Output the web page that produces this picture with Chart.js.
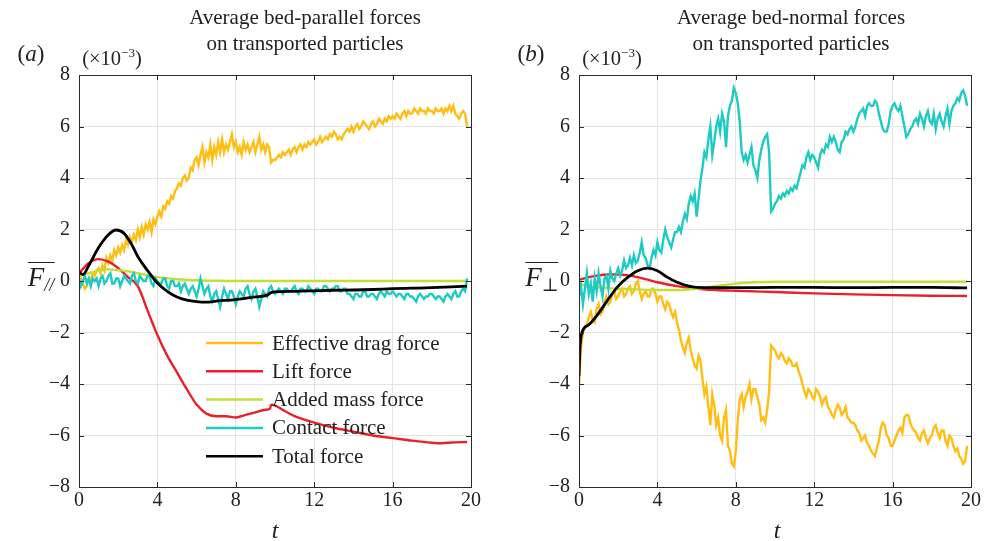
<!DOCTYPE html>
<html>
<head>
<meta charset="utf-8">
<script src="https://cdn.jsdelivr.net/npm/chart.js@4.4.1/dist/chart.umd.min.js"></script>
<style>
  body { margin: 0; background: #fff; font-family: "Liberation Serif", "DejaVu Serif", serif; color: #222; }
  #wrap { position: relative; width: 993px; height: 541px; overflow: hidden; }
  canvas { position: absolute; top: 0; }
  .t { position: absolute; white-space: nowrap; transform: translate(-50%, -50%); line-height: 1; }
  .title { font-size: 21px; text-align: center; line-height: 26px; }
  .panel { font-size: 23px; }
  .mult { font-size: 20.5px; }
  .mult sup { font-size: 13px; vertical-align: 8px; }
  .ylab { font-size: 27px; font-style: italic; border-top: 1.3px solid #222; padding-top: 1px; }
  .ylab sub { font-size: 18px; vertical-align: -5px; }
  .xlab { font-size: 24px; font-style: italic; }
</style>
</head>
<body>
<div id="wrap">
  <canvas id="chartA" width="496" height="541" style="left:0"></canvas>
  <canvas id="chartB" width="497" height="541" style="left:496px"></canvas>

  <div class="t title" style="left:305px;top:30px">Average bed-parallel forces<br>on transported particles</div>
  <div class="t title" style="left:791px;top:30px">Average bed-normal forces<br>on transported particles</div>
  <div class="t panel" style="left:31px;top:53px">(<i>a</i>)</div>
  <div class="t panel" style="left:531px;top:53px">(<i>b</i>)</div>
  <div class="t mult" style="left:112px;top:57px">(×10<sup>−3</sup>)</div>
  <div class="t mult" style="left:612px;top:57px">(×10<sup>−3</sup>)</div>
  <div class="t ylab" style="left:41px;top:278px">F<sub>//</sub></div>
  <div class="t ylab" style="left:542px;top:278px">F<sub>⊥</sub></div>
  <div class="t xlab" style="left:275px;top:530px">t</div>
  <div class="t xlab" style="left:777px;top:530px">t</div>
</div>
<script>
// time grid of the noisy records: 0 .. 19.8 every 0.1
const tNoisy = Array.from({ length: 199 }, (_, i) => i / 10);

const labels = ['Effective drag force', 'Lift force', 'Added mass force', 'Contact force', 'Total force'];
const colors = ['#FFBE14', '#E8202A', '#C3DE35', '#1ECAC2', '#000000'];

// (a) bed-parallel, x10^-3
const dragA = [
  0.3,0.1,-0.1,-0.3,-0.2,0.1,0.0,0.3,0.2,0.4,
  0.5,0.3,0.6,0.4,0.9,0.7,1.0,0.8,1.2,1.0,
  1.3,1.1,1.4,1.2,1.6,1.4,1.7,1.5,1.8,1.6,
  2.0,1.7,2.1,1.8,2.2,2.0,2.3,1.9,2.4,2.2,
  2.5,2.7,2.5,2.9,2.8,3.1,3.0,3.3,3.2,3.5,
  3.6,3.8,3.7,4.0,4.1,3.9,4.0,4.4,4.3,4.7,
  4.8,4.5,4.9,5.2,4.6,5.0,4.8,5.3,4.7,5.2,
  4.9,5.4,5.0,5.5,5.0,5.3,5.1,5.4,5.7,5.2,
  5.4,5.0,5.2,4.9,5.4,5.1,5.3,5.0,5.2,5.4,
  5.0,5.3,5.6,5.1,5.3,5.0,5.3,5.2,4.6,4.7,
  4.7,4.8,4.9,4.8,5.0,4.9,5.0,5.1,4.9,5.1,
  5.2,5.0,5.2,5.3,5.1,5.3,5.2,5.4,5.3,5.4,
  5.5,5.3,5.4,5.6,5.4,5.5,5.6,5.5,5.7,5.6,
  5.8,5.7,5.5,5.6,5.5,5.7,5.8,5.9,5.8,6.0,
  5.8,6.0,6.1,5.9,6.0,6.2,6.1,6.0,5.9,6.1,
  6.2,6.0,6.1,6.3,6.2,6.1,6.3,6.2,6.4,6.3,
  6.4,6.3,6.5,6.4,6.3,6.5,6.6,6.4,6.6,6.5,
  6.5,6.7,6.6,6.5,6.7,6.6,6.6,6.5,6.7,6.6,
  6.6,6.5,6.7,6.6,6.6,6.7,6.5,6.7,6.6,6.8,
  6.6,6.8,6.5,6.4,6.3,6.5,6.6,6.5,6.0];
const contactA = [
  0.1,-0.2,0.0,0.2,-0.1,0.1,-0.2,0.1,0.0,0.1,
  -0.2,0.1,0.2,-0.1,0.0,0.2,0.3,-0.1,-0.1,0.1,
  0.1,-0.2,0.0,0.2,0.1,0.0,-0.1,0.2,0.3,0.0,
  -0.1,0.2,0.1,0.0,0.0,0.2,0.2,-0.1,-0.2,0.1,
  0.0,-0.1,-0.1,0.1,0.1,-0.2,-0.3,0.0,0.0,-0.2,
  -0.2,-0.1,-0.4,-0.2,-0.1,-0.3,-0.5,-0.3,-0.2,-0.4,
  -0.6,-0.3,0.1,-0.2,-0.5,-0.3,-0.2,-0.6,-0.8,-0.5,
  -0.4,-0.7,-1.0,-0.6,-0.3,-0.5,-0.7,-0.4,-0.4,-0.6,
  -0.9,-0.6,-0.4,-0.5,-0.6,-0.3,-0.2,-0.5,-0.7,-0.4,
  -0.3,-0.6,-1.0,-0.7,-0.4,-0.5,-0.6,-0.3,-0.2,-0.4,
  -0.5,-0.4,-0.3,-0.4,-0.5,-0.3,-0.3,-0.4,-0.4,-0.3,
  -0.2,-0.4,-0.5,-0.3,-0.3,-0.4,-0.4,-0.2,-0.3,-0.4,
  -0.5,-0.3,-0.3,-0.4,-0.4,-0.2,-0.2,-0.3,-0.4,-0.3,
  -0.3,-0.2,-0.2,-0.4,-0.4,-0.3,-0.3,-0.5,-0.5,-0.6,
  -0.7,-0.5,-0.5,-0.6,-0.6,-0.4,-0.4,-0.6,-0.6,-0.5,
  -0.5,-0.6,-0.7,-0.5,-0.4,-0.5,-0.6,-0.4,-0.5,-0.5,
  -0.4,-0.5,-0.6,-0.5,-0.5,-0.6,-0.7,-0.5,-0.5,-0.6,
  -0.6,-0.7,-0.8,-0.6,-0.5,-0.6,-0.7,-0.6,-0.6,-0.5,
  -0.5,-0.6,-0.7,-0.6,-0.6,-0.7,-0.8,-0.6,-0.5,-0.6,
  -0.7,-0.5,-0.4,-0.6,-0.6,-0.4,-0.3,-0.4,0.1];
const tLiftA = [0,0.5,1,1.5,2,2.5,3,3.5,4,4.5,5,5.5,6,6.5,7,7.5,8,8.5,9,9.5,9.75,9.8,10.5,11,12,13,14,15,16,17,18,18.5,19,19.8];
const liftA = [0.3,0.7,0.85,0.75,0.5,0.15,-0.2,-1.15,-2.1,-2.9,-3.55,-4.2,-4.8,-5.15,-5.25,-5.25,-5.3,-5.2,-5.1,-5.0,-4.95,-4.8,-5.05,-5.25,-5.5,-5.7,-5.85,-6.0,-6.1,-6.2,-6.28,-6.3,-6.27,-6.25];
const tMassA = [0,0.5,1,1.5,2,2.5,3,3.5,4,5,6,7,8,10,12,14,16,18,19.8];
const massA = [0.25,0.3,0.4,0.45,0.42,0.38,0.3,0.22,0.15,0.07,0.03,0.01,0,0,0,0,0,0,0];
const tTotalA = [0,0.2,0.5,1,1.5,1.9,2.3,2.7,3,3.5,4,4.5,5,5.5,6,6.5,7,8,9,9.6,9.8,10,11,12,13,14,15,16,17,18,19,19.8];
const totalA = [0.35,0.25,0.6,1.3,1.8,1.98,1.85,1.4,0.95,0.4,-0.08,-0.4,-0.62,-0.74,-0.8,-0.82,-0.78,-0.72,-0.62,-0.55,-0.45,-0.42,-0.4,-0.38,-0.36,-0.35,-0.33,-0.3,-0.28,-0.26,-0.23,-0.2];

// (b) bed-normal, x10^-3
const dragB = [
  -4.0,-2.6,-2.0,-1.8,-1.7,-1.4,-1.2,-1.5,-1.6,-1.1,
  -0.9,-1.3,-1.2,-0.8,-0.6,-0.9,-0.8,-0.5,-0.4,-0.7,
  -0.6,-0.4,-0.3,-0.6,-0.5,-0.3,-0.2,-0.5,-0.4,-0.1,
  0.0,-0.4,-0.7,-0.5,-0.4,-0.6,-0.6,-0.3,-0.3,-0.5,
  -0.8,-0.6,-0.6,-0.9,-1.1,-0.8,-0.9,-1.2,-1.4,-1.2,
  -1.6,-1.9,-2.3,-2.6,-2.8,-2.4,-2.2,-2.7,-3.0,-3.3,
  -3.4,-2.9,-3.1,-3.8,-4.4,-4.1,-4.9,-5.6,-4.4,-4.8,
  -5.6,-5.3,-6.0,-6.2,-5.3,-5.0,-6.4,-6.6,-7.1,-7.2,
  -6.6,-5.4,-4.6,-4.4,-4.9,-4.5,-4.3,-4.0,-4.6,-4.2,
  -4.2,-4.5,-4.8,-5.4,-5.3,-5.5,-5.0,-4.3,-2.5,-2.6,
  -2.7,-2.9,-3.0,-2.8,-2.9,-3.1,-3.2,-3.0,-3.1,-3.3,
  -3.3,-3.2,-3.5,-3.7,-4.0,-4.3,-4.5,-4.2,-4.3,-4.5,
  -4.6,-4.2,-4.3,-4.5,-4.8,-4.6,-4.5,-4.9,-5.0,-5.2,
  -5.3,-5.0,-4.8,-4.9,-5.2,-5.1,-4.9,-5.3,-5.4,-5.5,
  -5.5,-5.6,-5.8,-5.9,-6.2,-6.1,-6.0,-6.3,-6.4,-6.6,
  -6.7,-6.8,-6.5,-6.2,-5.7,-5.5,-5.6,-6.0,-6.1,-6.4,
  -6.4,-6.2,-6.0,-5.8,-5.7,-5.9,-5.3,-5.2,-5.2,-5.5,
  -5.7,-5.8,-5.9,-6.1,-6.2,-5.9,-5.8,-6.1,-6.3,-6.1,
  -6.0,-5.7,-5.6,-5.9,-6.1,-5.8,-5.8,-6.2,-6.4,-6.0,
  -6.1,-6.4,-6.6,-6.5,-6.8,-6.9,-7.1,-7.0,-6.4];
const contactB = [
  -0.6,-0.2,-0.9,-0.3,0.3,-0.5,-0.1,-0.8,0.1,-0.4,
  0.3,-0.2,-0.6,0.1,0.2,-0.3,0.4,0.1,0.0,0.3,
  0.5,0.2,0.4,0.8,0.5,0.6,0.9,0.6,1.0,0.7,
  0.8,1.1,1.5,1.0,0.9,0.6,0.5,0.9,1.2,1.0,
  1.5,1.2,1.1,1.6,2.0,1.7,1.5,1.3,1.6,1.9,
  1.9,2.1,1.9,2.3,2.6,2.4,3.0,3.3,3.1,3.4,
  2.5,3.2,3.9,4.4,5.0,4.8,5.5,6.0,4.9,5.4,
  6.0,6.3,5.8,6.5,6.2,5.2,6.4,6.8,7.0,7.5,
  7.3,6.9,6.2,5.0,4.7,4.9,4.6,4.9,5.2,4.5,
  4.3,4.0,4.7,5.1,5.4,5.6,5.7,5.0,2.7,2.8,
  3.0,3.1,3.3,3.2,3.4,3.3,3.5,3.4,3.6,3.5,
  3.7,3.6,3.9,4.2,4.5,4.4,4.8,5.0,4.7,4.9,
  4.8,4.6,4.4,4.9,5.1,5.0,5.3,5.2,5.6,5.4,
  5.6,5.4,5.1,5.0,5.4,5.5,5.8,5.7,5.9,6.0,
  5.8,6.0,6.3,6.5,6.6,6.7,6.4,6.8,6.9,6.8,
  6.8,7.0,6.9,6.5,6.2,5.9,5.8,5.8,6.1,6.6,
  6.8,6.9,6.7,6.6,6.8,6.4,6.0,5.6,5.7,5.9,
  6.0,6.2,6.3,6.1,6.5,6.3,6.0,6.4,6.6,6.2,
  6.1,6.5,5.9,6.3,6.5,6.2,6.0,6.4,6.7,6.1,
  6.6,6.8,6.9,7.1,7.0,7.3,7.4,7.2,6.8];
const tLiftB = [0,0.5,1,1.5,2,2.5,3,3.5,4,5,6,7,8,10,12,14,16,18,19.8];
const liftB = [0.05,0.15,0.22,0.25,0.25,0.22,0.15,0.05,-0.05,-0.2,-0.3,-0.35,-0.38,-0.43,-0.48,-0.52,-0.55,-0.57,-0.58];
const tMassB = [0,0.3,1,2,3,4,5,6,7,8,9,10,12,14,16,18,19.8];
const massB = [0,-0.2,-0.25,-0.3,-0.33,-0.35,-0.35,-0.3,-0.2,-0.1,-0.05,-0.03,-0.03,-0.03,-0.03,-0.03,-0.03];
const tTotalB = [0,0.05,0.15,0.5,1,1.5,2,2.5,3,3.5,4,4.5,5,5.5,6,7,8,10,12,14,16,18,19.8];
const totalB = [-3.7,-2.6,-2.0,-1.7,-1.25,-0.7,-0.2,0.15,0.4,0.5,0.4,0.15,-0.05,-0.18,-0.25,-0.26,-0.26,-0.25,-0.25,-0.26,-0.25,-0.25,-0.27];

const xTicks = [0, 4, 8, 12, 16, 20];
const yTicks = [-8, -6, -4, -2, 0, 2, 4, 6, 8];

Chart.defaults.font.family = '"Liberation Serif", serif';
Chart.defaults.color = '#222';

function pts(t, v) {
  return t.map((x, i) => ({ x: x, y: v[i] }));
}

// box around plot + inward ticks on all sides
const framePlugin = {
  id: 'frame',
  afterDatasetsDraw(chart) {
    const ctx = chart.ctx, a = chart.chartArea;
    const xs = chart.scales.x, ys = chart.scales.y;
    ctx.save();
    ctx.strokeStyle = '#2a2a2a';
    ctx.lineWidth = 1;
    ctx.strokeRect(Math.round(a.left) + 0.5, Math.round(a.top) + 0.5, Math.round(a.width), Math.round(a.height));
    ctx.beginPath();
    xTicks.forEach(v => {
      const p = Math.round(xs.getPixelForValue(v)) + 0.5;
      ctx.moveTo(p, a.bottom); ctx.lineTo(p, a.bottom - 5);
      ctx.moveTo(p, a.top); ctx.lineTo(p, a.top + 5);
    });
    yTicks.forEach(v => {
      const p = Math.round(ys.getPixelForValue(v)) + 0.5;
      ctx.moveTo(a.left, p); ctx.lineTo(a.left + 5, p);
      ctx.moveTo(a.right, p); ctx.lineTo(a.right - 5, p);
    });
    ctx.stroke();
    ctx.restore();
  }
};

// legend inside panel (a)
const legendPlugin = {
  id: 'inLegend',
  afterDatasetsDraw(chart, args, opts) {
    if (!opts.show) return;
    const ctx = chart.ctx;
    ctx.save();
    ctx.font = '21px "Liberation Serif", serif';
    ctx.textBaseline = 'middle';
    chart.data.datasets.forEach((ds, i) => {
      const y = 343 + i * 28.3;
      ctx.strokeStyle = ds.borderColor;
      ctx.lineWidth = 2.5;
      ctx.beginPath();
      ctx.moveTo(206, y); ctx.lineTo(263, y);
      ctx.stroke();
      ctx.fillStyle = '#222';
      ctx.fillText(ds.label, 272, y + 1);
    });
    ctx.restore();
  }
};

function makePanel(id, series, yWidth, padRight, showLegend) {
  const datasets = series.map((s, i) => ({
    label: labels[i],
    data: pts(s[0], s[1]),
    borderColor: colors[i],
    borderWidth: i === 4 ? 2.8 : 2.4,
    pointRadius: 0,
    tension: 0,
    cubicInterpolationMode: s[2] ? 'monotone' : 'default',
    order: 5 - i
  }));
  return new Chart(document.getElementById(id), {
    type: 'line',
    data: { datasets: datasets },
    options: {
      responsive: false,
      animation: false,
      devicePixelRatio: 1,
      layout: { padding: { left: 0, right: padRight, top: 75, bottom: 0 } },
      plugins: {
        legend: { display: false },
        tooltip: { enabled: false },
        inLegend: { show: showLegend }
      },
      scales: {
        x: {
          type: 'linear', min: 0, max: 20,
          afterBuildTicks: s => { s.ticks = xTicks.map(v => ({ value: v })); },
          ticks: { font: { size: 20 }, padding: 2, color: '#222', maxRotation: 0 },
          grid: { color: '#e4e4e4', drawTicks: false },
          border: { display: false },
          afterFit: s => { s.height = 54; }
        },
        y: {
          type: 'linear', min: -8, max: 8,
          afterBuildTicks: s => { s.ticks = yTicks.map(v => ({ value: v })); },
          ticks: {
            font: { size: 20 }, padding: 9, color: '#222',
            callback: v => String(v).replace('-', '\u2212')
          },
          grid: { color: '#e4e4e4', drawTicks: false },
          border: { display: false },
          afterFit: s => { s.width = yWidth; }
        }
      }
    },
    plugins: [framePlugin, legendPlugin]
  });
}

makePanel('chartA', [
  [tNoisy, dragA, false],
  [tLiftA, liftA, true],
  [tMassA, massA, true],
  [tNoisy, contactA, false],
  [tTotalA, totalA, true]
], 79, 25, true);

makePanel('chartB', [
  [tNoisy, dragB, false],
  [tLiftB, liftB, true],
  [tMassB, massB, true],
  [tNoisy, contactB, false],
  [tTotalB, totalB, true]
], 83, 22, false);
</script>
</body>
</html>
